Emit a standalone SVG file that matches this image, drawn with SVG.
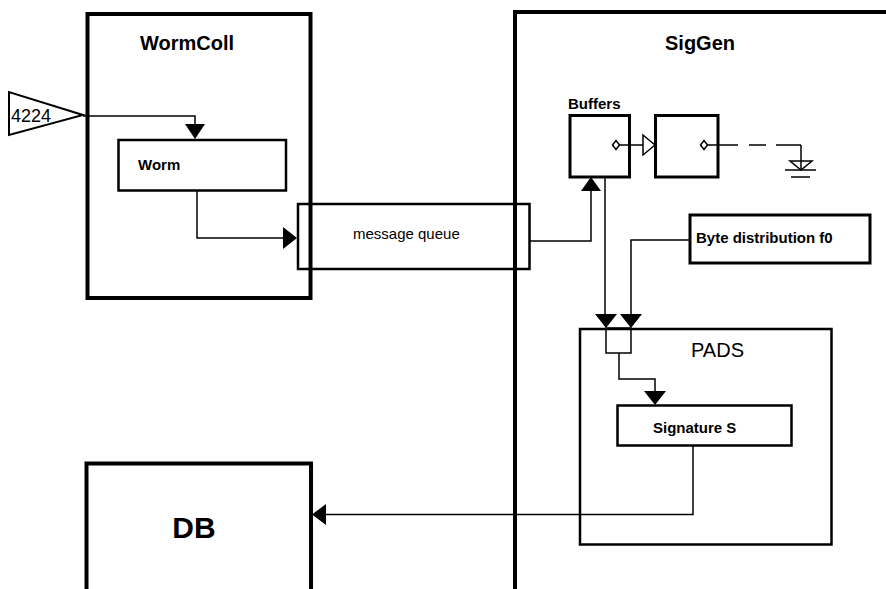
<svg xmlns="http://www.w3.org/2000/svg" width="886" height="589" viewBox="0 0 886 589">
<style>
text{font-family:"Liberation Sans",Arial,sans-serif;fill:#000}
.b{font-weight:bold}
.big{fill:none;stroke:#000;stroke-width:4}
.box{fill:#fff;stroke:#000;stroke-width:2.5}
.thin{fill:none;stroke:#000;stroke-width:1.5}
.c{fill:none;stroke:#000;stroke-width:1.5}
.ah{fill:#000;stroke:none}
</style>
<rect width="886" height="589" fill="#fff"/>
<g id="WormColl">
<rect class="big" x="87.5" y="14" width="223" height="284"/>
<text class="b" x="187" y="50" font-size="20" text-anchor="middle">WormColl</text>
</g>
<g id="SigGen">
<path class="big" d="M515,592 V12 H890"/>
<text class="b" x="700" y="50" font-size="20" text-anchor="middle">SigGen</text>
</g>
<g id="DB">
<path class="big" d="M86.5,592 V463.5 H311 V592"/>
<text class="b" x="194" y="538" font-size="30" text-anchor="middle">DB</text>
</g>
<g id="PADS">
<rect class="box" x="580" y="329" width="251.5" height="215.5"/>
<text x="691" y="357" font-size="20">PADS</text>
<rect class="thin" x="606" y="328" width="25" height="25"/>
</g>
<g id="Worm">
<rect class="box" x="118.5" y="140" width="167.5" height="50.5"/>
<text class="b" x="138" y="170" font-size="15">Worm</text>
</g>
<g id="MessageQueue">
<rect class="box" fill="none" style="fill:none" x="298" y="204" width="231.5" height="65"/>
<text x="353" y="239" font-size="15">message queue</text>
</g>
<g id="Port4224">
<polygon points="9,92 9,135 83,115" fill="#fff" stroke="#000" stroke-width="2"/>
<text x="11" y="122" font-size="18">4224</text>
</g>
<g id="Buffers">
<text class="b" x="568" y="109" font-size="15">Buffers</text>
<rect class="box" x="570" y="115.5" width="59.5" height="61.5" style="stroke-width:3"/>
<polygon points="616,140.5 619.5,145 616,149.5 612.5,145" fill="#fff" stroke="#000" stroke-width="1.5"/>
</g>
<g id="Buffer2">
<rect class="box" x="655.5" y="115.5" width="62.5" height="61.5" style="stroke-width:3"/>
<polygon points="704,140.5 707.5,145 704,149.5 700.5,145" fill="#fff" stroke="#000" stroke-width="1.5"/>
</g>
<g id="Ground">
<path class="c" d="M801,145 V170"/>
<polygon points="790,161 812,161 801,170" fill="none" stroke="#000" stroke-width="1.5"/>
<path class="c" d="M785,170 H816 M791,177 H810"/>
</g>
<g id="ByteDistribution">
<rect class="box" x="690" y="215" width="180" height="48" style="stroke-width:3"/>
<text class="b" x="696" y="243" font-size="15">Byte distribution f0</text>
</g>
<g id="Signature">
<rect class="box" x="617.5" y="405.5" width="174" height="40"/>
<text class="b" x="653" y="433" font-size="15">Signature S</text>
</g>
<g id="connectors">
<path class="c" d="M83,116 H195 V125"/>
<polygon class="ah" points="185,124 205,124 195,139"/>
<path class="c" d="M197,191 V238 H284"/>
<polygon class="ah" points="283,227 283,249 297,238"/>
<path class="c" d="M530,241 H591 V190"/>
<polygon class="ah" points="581,191 601,191 591,177"/>
<path class="c" d="M619.5,145 H644"/>
<polygon points="643,135 643,155 655,145" fill="#fff" stroke="#000" stroke-width="1.5"/>
<path class="c" d="M707.5,145 H738 M749,145 H766 M776,145 H801"/>
<path class="c" d="M605,177 V315"/>
<polygon class="ah" points="595,314 617,314 606,328"/>
<path class="c" d="M690,240 H631 V315"/>
<polygon class="ah" points="620,314 642,314 631,328"/>
<path class="c" d="M619,353 V379 H655 V392"/>
<polygon class="ah" points="644,391 666,391 655,405"/>
<path class="c" d="M693,446 V514.5 H325"/>
<polygon class="ah" points="326,504 326,525 312,514.5"/>
</g>
</svg>
